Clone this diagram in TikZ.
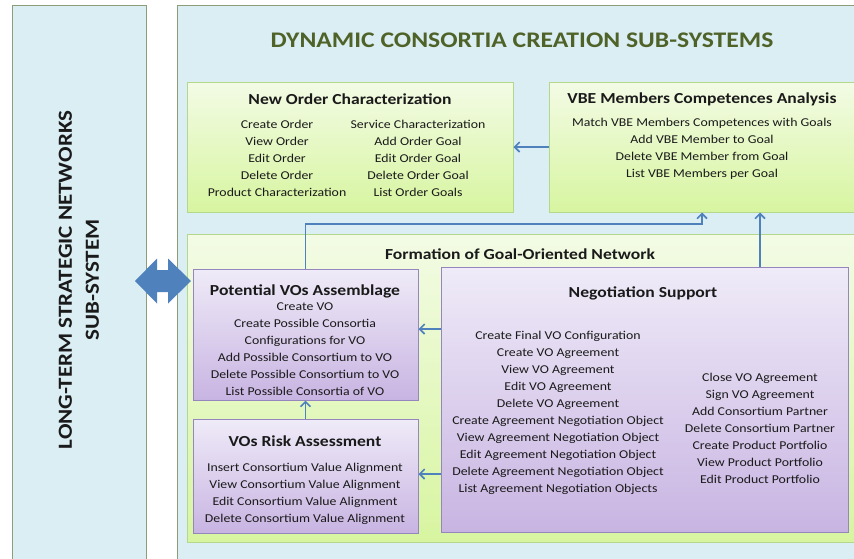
\documentclass[tikz,border=0pt]{standalone}
\usepackage{fontspec}
\setmainfont[FakeStretch=1.15]{Carlito}
\usetikzlibrary{arrows.meta,calc}
\definecolor{panelfill}{HTML}{DBEEF4}
\definecolor{panelborder}{HTML}{8B9E78}
\definecolor{titlegreen}{HTML}{4F6228}
\definecolor{gtop}{HTML}{F3FBE5}
\definecolor{gbot}{HTML}{D7F5A0}
\definecolor{gborder}{HTML}{B3D78B}
\definecolor{ptop}{HTML}{EFEBF8}
\definecolor{pbot}{HTML}{C8B4E2}
\definecolor{pborder}{HTML}{9686BE}
\definecolor{arrowblue}{HTML}{4F81BD}
\definecolor{txt}{HTML}{1A1A1A}
\tikzset{
  panel/.style={draw=panelborder, fill=panelfill, line width=1pt},
  greenbox/.style={draw=gborder, top color=gtop, bottom color=gbot, line width=1pt},
  purplebox/.style={draw=pborder, top color=ptop, bottom color=pbot, line width=1pt},
  boxtitle/.style={font=\fontsize{15.3}{18}\selectfont\bfseries, text=txt, inner sep=0pt},
  items/.style={font=\fontsize{12}{17}\selectfont, text=txt, align=center, inner sep=0pt, anchor=north},
  conn/.style={draw=arrowblue, line width=1.8pt, -{Straight Barb[length=5pt,width=10pt,line width=1.6pt]}},
}
\begin{document}
\begin{tikzpicture}[x=1pt,y=-1pt]
\useasboundingbox (0,0) rectangle (854,558);
\fill[white] (0,0) rectangle (854,558);
% panels
\draw[panel] (12,5) rectangle (146,570);
\draw[panel] (177,5) rectangle (870,570);
\node[font=\fontsize{20}{27}\selectfont\bfseries, text=txt, rotate=90, align=center, inner sep=0pt] (ltn) at (79,280) {LONG-TERM STRATEGIC NETWORKS\\SUB-SYSTEM};
\node[font=\fontsize{22.3}{26}\selectfont\bfseries, text=titlegreen, inner sep=0pt] (dcc) at (522,40) {DYNAMIC CONSORTIA CREATION SUB-SYSTEMS};

% New order
\node[greenbox, minimum width=326pt, minimum height=130pt, inner sep=0pt] (neworder) at (350,147) {};
\node[boxtitle] (notitle) at (350,99) {New Order Characterization};
\node[items] (nol) at (277,119.5) {Create Order\\View Order\\Edit Order\\Delete Order\\Product Characterization};
\node[items] (nor) at (418,119.5) {Service Characterization\\Add Order Goal\\Edit Order Goal\\Delete Order Goal\\List Order Goals};

% VBE
\node[greenbox, minimum width=320pt, minimum height=130pt, inner sep=0pt] (vbe) at (709,147) {};
\node[boxtitle] (vbetitle) at (702,99) {VBE Members Competences Analysis};
\node[items] (vbel) at (702,117.5) {Match VBE Members Competences with Goals\\Add VBE Member to Goal\\Delete VBE Member from Goal\\List VBE Members per Goal};

% Formation
\node[greenbox, minimum width=683pt, minimum height=308pt, inner sep=0pt] (form) at (528.5,388.5) {};
\node[boxtitle] (formtitle) at (520,254) {Formation of Goal-Oriented Network};

% Potential VOs
\node[purplebox, minimum width=225pt, minimum height=131pt, inner sep=0pt] (pot) at (305.5,334.5) {};
\node[boxtitle] (pottitle) at (305,291) {Potential VOs Assemblage};
\node[items] (potl) at (305,302.5) {Create VO\\Create Possible Consortia\\Configurations for VO\\Add Possible Consortium to VO\\Delete Possible Consortium to VO\\List Possible Consortia of VO};

% Risk
\node[purplebox, minimum width=225pt, minimum height=114pt, inner sep=0pt] (risk) at (305.5,476) {};
\node[boxtitle] (risktitle) at (305,441) {VOs Risk Assessment};
\node[items] (riskl) at (305,462.5) {Insert Consortium Value Alignment\\View Consortium Value Alignment\\Edit Consortium Value Alignment\\Delete Consortium Value Alignment};

% Negotiation
\node[purplebox, minimum width=407pt, minimum height=265pt, inner sep=0pt] (neg) at (644.5,399.5) {};
\node[boxtitle] (negtitle) at (643,293) {Negotiation Support};
\node[items] (negl) at (558,330.5) {Create Final VO Configuration\\Create VO Agreement\\View VO Agreement\\Edit VO Agreement\\Delete VO Agreement\\Create Agreement Negotiation Object\\View Agreement Negotiation Object\\Edit Agreement Negotiation Object\\Delete Agreement Negotiation Object\\List Agreement Negotiation Objects};
\node[items] (negr) at (760,372.5) {Close VO Agreement\\Sign VO Agreement\\Add Consortium Partner\\Delete Consortium Partner\\Create Product Portfolio\\View Product Portfolio\\Edit Product Portfolio};

% connectors
\coordinate (bendA) at (702,224);
\coordinate (bendB) at (760,224);
\coordinate (hA) at (430,329);
\coordinate (hB) at (430,474);
\draw[conn] (vbe.west) -- (neworder.east);
\draw[conn] (pot.north) |- (bendA) -- (bendA |- vbe.south);
\draw[conn] (neg.north -| bendB) -- (bendB |- vbe.south);
\draw[conn] (neg.west |- hA) -- (pot.east |- hA);
\draw[conn] (neg.west |- hB) -- (risk.east |- hB);
\draw[conn] (risk.north) -- (pot.south);

% double block arrow
\fill[arrowblue] (135,281) -- (157,258.5) -- (157,270) -- (168,270) -- (168,258.5) -- (191,281) -- (168,303.5) -- (168,292) -- (157,292) -- (157,303.5) -- cycle;
\end{tikzpicture}
\end{document}
